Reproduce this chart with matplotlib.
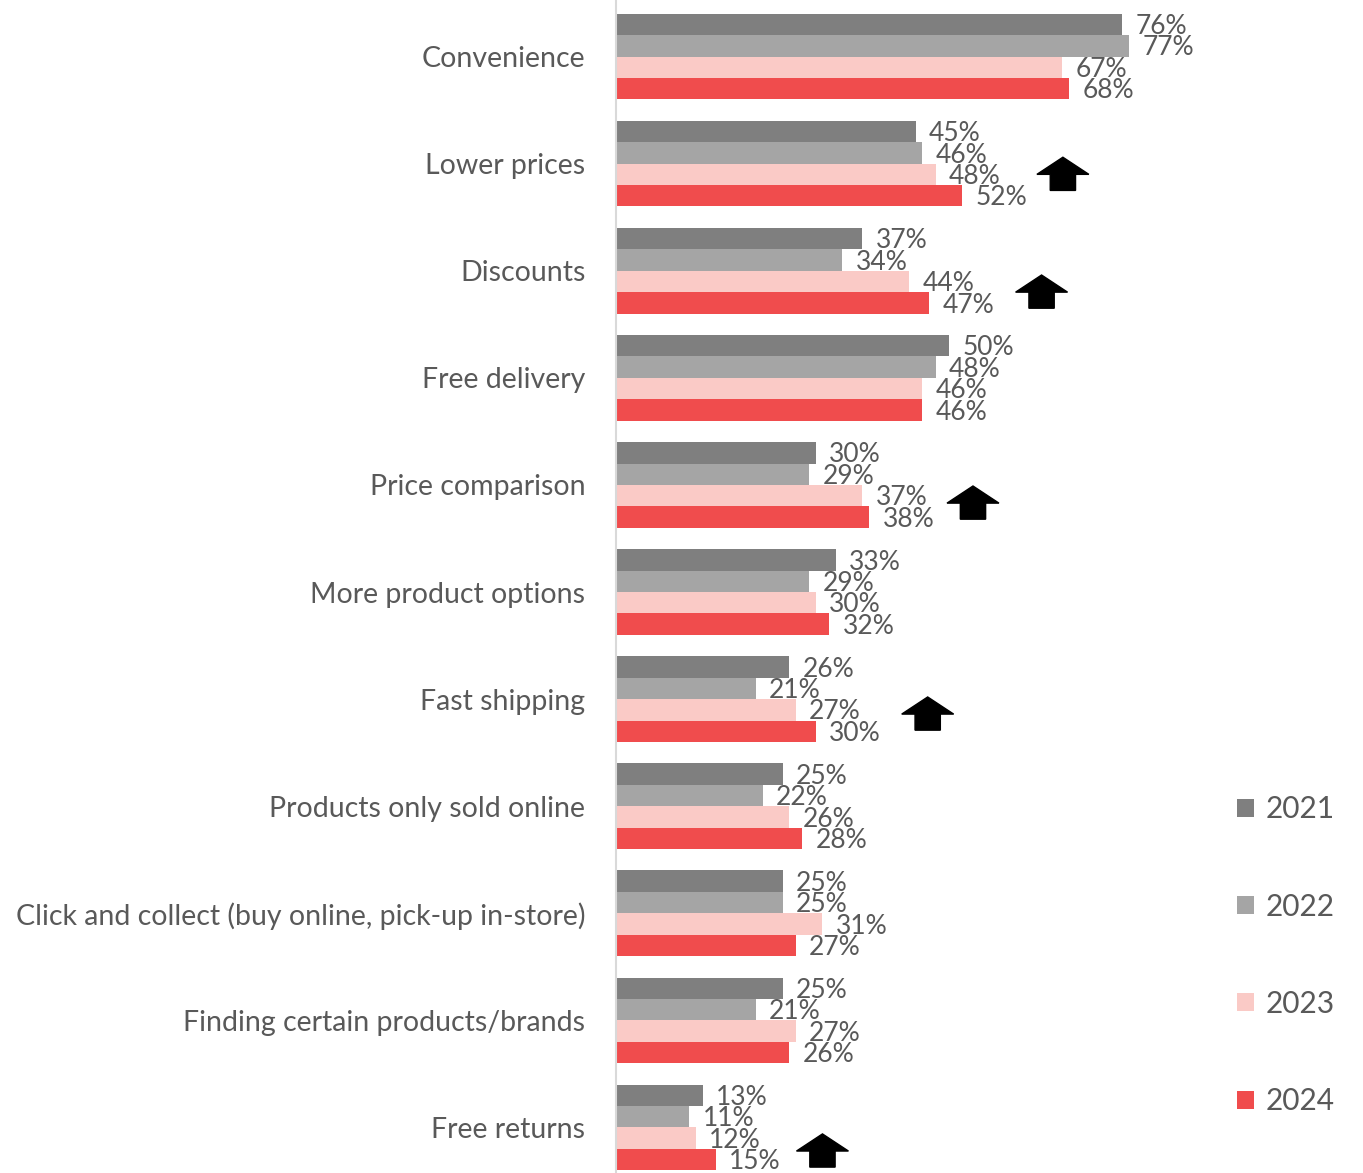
import numpy as np
import matplotlib.pyplot as plt
from matplotlib.patches import Polygon

plt.rcParams['font.family'] = ['Lato', 'DejaVu Sans']

# reasons for shopping online, share of respondents (%)
categories = ["Convenience", "Lower prices", "Discounts", "Free delivery",
              "Price comparison", "More product options", "Fast shipping",
              "Products only sold online",
              "Click and collect (buy online, pick-up in-store)",
              "Finding certain products/brands", "Free returns"]
years = ["2021", "2022", "2023", "2024"]
v2021 = [76, 45, 37, 50, 30, 33, 26, 25, 25, 25, 13]
v2022 = [77, 46, 34, 48, 29, 29, 21, 22, 25, 21, 11]
v2023 = [67, 48, 44, 46, 37, 30, 27, 26, 31, 27, 12]
v2024 = [68, 52, 47, 46, 38, 32, 30, 28, 27, 26, 15]

# categories flagged with an upward trend, and where the arrow sits
up_cats = ["Lower prices", "Discounts", "Price comparison", "Fast shipping", "Free returns"]
up_x = [67.1, 63.9, 53.6, 46.8, 31.0]
up_dy = [0.10, 0.20, 0.17, 0.14, 0.22]

colors = ["#7f7f7f", "#a5a5a5", "#facac6", "#f04c4d"]
txt = "#595959"

fig = plt.figure(figsize=(13.63, 11.73), dpi=100)
ax = fig.add_axes([616 / 1363, 0, 747 / 1363, 1])

y = np.arange(len(categories))
h = 0.2
for i, (vals, c) in enumerate(zip([v2021, v2022, v2023, v2024], colors)):
    pos = y + (i - 1.5) * h
    ax.barh(pos, vals, height=h, color=c, label=years[i])
    for p, v in zip(pos, vals):
        ax.text(v + 2.0, p + 0.02, f"{v}%", va="center", ha="left",
                fontsize=19, color=txt)

# up arrows
for cat, ax_x, dy in zip(up_cats, up_x, up_dy):
    cy = categories.index(cat) + dy
    hw, sw = 3.9, 1.9       # half widths of head and shaft in %
    top, bot = cy - 0.16, cy + 0.15
    pts = [(ax_x, top), (ax_x + hw, cy), (ax_x + sw, cy), (ax_x + sw, bot),
           (ax_x - sw, bot), (ax_x - sw, cy), (ax_x - hw, cy)]
    ax.add_patch(Polygon(pts, closed=True, color="black", zorder=5))

ax.set_xlim(0, 747 / 6.66)
ax.set_ylim(10.425, -0.528)
ax.set_yticks(y)
ax.set_yticklabels(categories, fontsize=20.5, color=txt)
ax.tick_params(axis="y", length=0, pad=22)
ax.set_xticks([])
for s in ["top", "right", "bottom"]:
    ax.spines[s].set_visible(False)
ax.spines["left"].set_color("#d9d9d9")
ax.spines["left"].set_linewidth(1.5)

leg = ax.legend(loc="lower right", bbox_to_anchor=(1.0, 0.025), frameon=False,
                fontsize=21.5, labelspacing=2.32, handlelength=0.55,
                handleheight=0.55, handletextpad=0.4, borderaxespad=0.55)
for t in leg.get_texts():
    t.set_color(txt)

fig.savefig("out.png", dpi=100)
